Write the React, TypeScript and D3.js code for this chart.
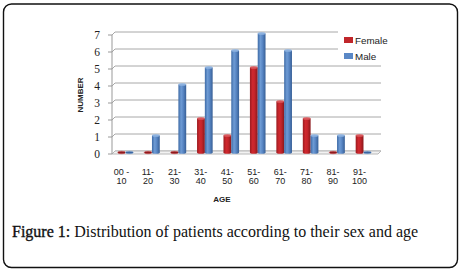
import React from "react";
import * as d3 from "d3";

const categories = ["00 -|10", "11-|20", "21-|30", "31-|40", "41-|50", "51-|60", "61-|70", "71-|80", "81-|90", "91-|100"];
const femaleValues = [0, 0, 0, 2, 1, 5, 3, 2, 0, 1];
const maleValues = [0, 1, 4, 5, 6, 7, 6, 1, 1, 0];
const yTicks = [0, 1, 2, 3, 4, 5, 6, 7];
const seriesNames = ["Female", "Male"];

const W = 462;
const H = 271;
const axisX = 112;
const floorFront = 154;
const depth = 3;
const rightX = 378;

export default function App() {
  const yFront = d3.scaleLinear().domain([0, 7]).range([floorFront, floorFront - 119]);
  const yMid = (v: number) => yFront(v) - depth / 2;
  const yBack = (v: number) => yFront(v) - depth;
  const x = d3.scaleBand<number>().domain(d3.range(categories.length)).range([112.3, 376.7]).paddingInner(0).paddingOuter(0);
  const barW = 7.8;

  const series = [
    { name: seriesNames[0], values: femaleValues, grad: "gRed", cap: "#d9585c", dark: "#8e1a1d" },
    { name: seriesNames[1], values: maleValues, grad: "gBlue", cap: "#8db2e0", dark: "#3b66a0" },
  ];

  return (
    <svg width={W} height={H} style={{ position: "absolute", left: 0, top: 0 }} xmlns="http://www.w3.org/2000/svg">
      <defs>
        <linearGradient id="gRed" x1="0" x2="1" y1="0" y2="0">
          <stop offset="0" stopColor="#9a1c20" />
          <stop offset="0.35" stopColor="#d0282e" />
          <stop offset="0.6" stopColor="#c4252a" />
          <stop offset="1" stopColor="#8a171b" />
        </linearGradient>
        <linearGradient id="gBlue" x1="0" x2="1" y1="0" y2="0">
          <stop offset="0" stopColor="#3d6aa6" />
          <stop offset="0.35" stopColor="#6e9bd4" />
          <stop offset="0.6" stopColor="#5a88c6" />
          <stop offset="1" stopColor="#375f96" />
        </linearGradient>
      </defs>
      <rect x={0} y={0} width={W} height={H} fill="#fff" />
      <rect x={3.5} y={4} width={454} height={263.5} rx={8} ry={8} fill="#fff" stroke="#111" strokeWidth={1.4} />

      {/* back wall gridlines */}
      {yTicks.map((t) => (
        <g key={"g" + t}>
          <polyline
            points={`${axisX},${yFront(t)} ${axisX + depth},${yBack(t)} ${rightX + depth},${yBack(t)}`}
            fill="none"
            stroke={t === 0 ? "#b0b0b0" : "#a8a8a8"}
            strokeWidth={1}
          />
          <line x1={axisX - 4} x2={axisX} y1={yFront(t)} y2={yFront(t)} stroke="#999" strokeWidth={1} />
          <text x={100} y={yFront(t) + 4} textAnchor="end" fontFamily="Liberation Serif" fontSize={11.5} fill="#222">
            {t}
          </text>
        </g>
      ))}
      {/* floor */}
      <polygon
        points={`${axisX},${floorFront} ${axisX + depth},${yBack(0)} ${rightX + depth},${yBack(0)} ${rightX},${floorFront}`}
        fill="#f2f2f2"
        stroke="#b8b8b8"
        strokeWidth={1}
      />
      <line x1={axisX} x2={axisX} y1={yFront(7)} y2={floorFront} stroke="#999" strokeWidth={1} />

      {/* legend background */}
      <rect x={338} y={29} width={70} height={32} fill="#fff" />

      {/* bars */}
      {categories.map((c, i) => {
        const cx = (x(i) as number) + x.bandwidth() / 2;
        return (
          <g key={"b" + i}>
            {series.map((s, si) => {
              const bx = cx - barW + si * barW;
              const v = s.values[i];
              const top = yMid(v);
              const bottom = yMid(0);
              const h = Math.max(bottom - top, 0);
              return (
                <g key={s.name}>
                  {h > 0 && <rect x={bx} y={top} width={barW} height={h} fill={`url(#${s.grad})`} />}
                  {h > 0 && <ellipse cx={bx + barW / 2} cy={bottom} rx={barW / 2} ry={1.3} fill={`url(#${s.grad})`} />}
                  <ellipse cx={bx + barW / 2} cy={top} rx={barW / 2} ry={1.3} fill={h > 0 ? s.cap : s.dark} stroke={h > 0 ? "none" : s.cap} strokeWidth={0.5} />
                </g>
              );
            })}
            {c.split("|").map((line, li) => (
              <text
                key={li}
                x={cx - 4}
                y={174.5 + li * 9}
                textAnchor="middle"
                fontFamily="Liberation Sans, Arial"
                fontSize={9}
                textLength={undefined}
                fill="#222"
              >
                {line}
              </text>
            ))}
          </g>
        );
      })}

      {/* legend */}
      {series.map((s, i) => (
        <g key={"l" + i}>
          <rect x={344} y={37 + i * 16} width={9} height={6} fill={i === 0 ? "#c0262b" : "#5a88c6"} />
          <text x={355} y={43.5 + i * 16} fontFamily="Liberation Sans, Arial" fontSize={9.8} fill="#222">
            {s.name}
          </text>
        </g>
      ))}

      {/* axis titles */}
      <text
        transform="translate(83,95) rotate(-90)"
        textAnchor="middle"
        fontFamily="Liberation Sans, Arial"
        fontWeight="bold"
        fontSize={8}
        fill="#222"
      >
        NUMBER
      </text>
      <text x={222} y={202} textAnchor="middle" fontFamily="Liberation Sans, Arial" fontWeight="bold" fontSize={8} fill="#222">
        AGE
      </text>

      {/* caption */}
      <text x={12} y={237} fontFamily="Liberation Serif" fontSize={16} fill="#111">
        <tspan stroke="#111" strokeWidth={0.35}>Figure 1:</tspan>
        <tspan> Distribution of patients according to their sex and age</tspan>
      </text>
    </svg>
  );
}
